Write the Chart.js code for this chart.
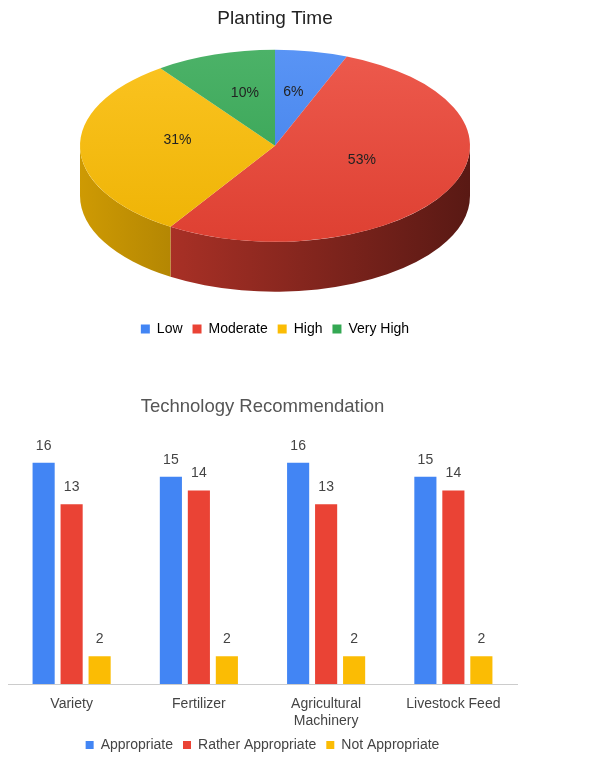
<!DOCTYPE html>
<html>
<head>
<meta charset="utf-8">
<script src="https://cdn.jsdelivr.net/npm/chart.js@4.4.1/dist/chart.umd.min.js"></script>
<style>
  body { margin: 0; background: #fff; width: 596px; height: 764px; position: relative; overflow: hidden; }
  #pie { position: absolute; left: 0; top: 0; }
  #bars { position: absolute; left: 0; top: 380px; }
</style>
</head>
<body>
<canvas id="pie" width="596" height="350"></canvas>
<canvas id="bars" width="596" height="384"></canvas>
<script>
// planting time (pie)
const pieLabels = ["Low", "Moderate", "High", "Very High"];
const pieValues = [6, 53, 31, 10];
const pieColors = ["#4285f4", "#ea4335", "#fbbc04", "#34a853"];

// technology recommendation (bars)
const barCategories = ["Variety", "Fertilizer", ["Agricultural", "Machinery"], "Livestock Feed"];
const appropriate = [16, 15, 16, 15];
const ratherAppropriate = [13, 14, 13, 14];
const notAppropriate = [2, 2, 2, 2];

Chart.defaults.font.family = "Arial, 'Liberation Sans', sans-serif";

// ellipse size of the tilted pie
const RX = 195, RY = 96, DEPTH = 50;

function shade(hex, f) {
  const n = parseInt(hex.slice(1), 16);
  const r = (n >> 16) & 255, g = (n >> 8) & 255, b = n & 255;
  const c = (v) => Math.max(0, Math.min(255, Math.round(f >= 1 ? v + (255 - v) * (f - 1) : v * f)));
  return `rgb(${c(r)},${c(g)},${c(b)})`;
}

const pie3d = {
  id: "pie3d",
  beforeDatasetsDraw(chart) {
    const ctx = chart.ctx;
    const arcs = chart.getDatasetMeta(0).data;
    if (!arcs.length) return;
    const a0 = arcs[0];
    const cx = a0.x, cy = chart.chartArea.top + RY;
    // front walls
    arcs.forEach((arc, i) => {
      const s = Math.max(arc.startAngle, 0), e = Math.min(arc.endAngle, Math.PI);
      if (e <= s) return;
      const g = ctx.createLinearGradient(cx - RX, 0, cx + RX, 0);
      g.addColorStop(0, shade(pieColors[i], 0.82));
      g.addColorStop(1, shade(pieColors[i], 0.38));
      ctx.beginPath();
      ctx.ellipse(cx, cy, RX, RY, 0, s, e);
      ctx.ellipse(cx, cy + DEPTH, RX, RY, 0, e, s, true);
      ctx.closePath();
      ctx.fillStyle = g;
      ctx.fill();
    });
    // squash the top face into an ellipse
    const r = a0.outerRadius;
    ctx.save();
    ctx.translate(cx, cy);
    ctx.scale(RX / r, RY / r);
    ctx.translate(-a0.x, -a0.y);
  },
  afterDatasetsDraw(chart) {
    const ctx = chart.ctx;
    ctx.restore();
    const arcs = chart.getDatasetMeta(0).data;
    if (!arcs.length) return;
    const a0 = arcs[0];
    const cx = a0.x, cy = chart.chartArea.top + RY;
    const r = a0.outerRadius;
    ctx.save();
    ctx.font = "14px Arial, 'Liberation Sans', sans-serif";
    ctx.fillStyle = "#222";
    ctx.textAlign = "center";
    ctx.textBaseline = "middle";
    arcs.forEach((arc, i) => {
      const p = arc.tooltipPosition();
      const x = cx + (p.x - a0.x) * RX / r;
      const y = cy + (p.y - a0.y) * RY / r;
      ctx.fillText(pieValues[i] + "%", x, y - 7);
    });
    ctx.restore();
  }
};

new Chart(document.getElementById("pie"), {
  type: "pie",
  data: {
    labels: pieLabels,
    datasets: [{
      data: pieValues,
      borderWidth: 0,
      backgroundColor: (c) => {
        const area = c.chart.chartArea;
        const base = pieColors[c.dataIndex];
        if (!area) return base;
        const g = c.chart.ctx.createLinearGradient(0, area.top, 0, area.bottom);
        g.addColorStop(0, shade(base, 1.12));
        g.addColorStop(1, shade(base, 0.95));
        return g;
      },
    }],
  },
  options: {
    responsive: false,
    animation: false,
    layout: { padding: { right: 46, bottom: 4 } },
    plugins: {
      title: {
        display: true,
        text: "Planting Time",
        color: "#222",
        font: { size: 19, weight: "normal" },
        padding: { top: 7, bottom: 20 },
      },
      legend: {
        position: "bottom",
        labels: {
          boxWidth: 9,
          boxHeight: 9,
          color: "#222",
          font: { size: 14 },
          padding: 10,
          generateLabels: () => pieLabels.map((l, i) => ({
            text: l, fillStyle: pieColors[i], strokeStyle: pieColors[i], lineWidth: 0, hidden: false, index: i,
          })),
        },
      },
      tooltip: { enabled: false },
    },
  },
  plugins: [pie3d],
});

const barLabels = {
  id: "barLabels",
  afterDatasetsDraw(chart) {
    const ctx = chart.ctx;
    ctx.save();
    ctx.font = "14px Arial, 'Liberation Sans', sans-serif";
    ctx.fillStyle = "#444";
    ctx.textAlign = "center";
    ctx.textBaseline = "bottom";
    chart.data.datasets.forEach((ds, i) => {
      chart.getDatasetMeta(i).data.forEach((bar, j) => {
        ctx.fillText(ds.data[j], bar.x, bar.y - 10);
      });
    });
    ctx.restore();
  }
};

new Chart(document.getElementById("bars"), {
  type: "bar",
  data: {
    labels: barCategories,
    datasets: [
      { label: "Appropriate", data: appropriate, backgroundColor: "#4285f4" },
      { label: "Rather Appropriate", data: ratherAppropriate, backgroundColor: "#ea4335" },
      { label: "Not Appropriate", data: notAppropriate, backgroundColor: "#fbbc04" },
    ],
  },
  options: {
    responsive: false,
    animation: false,
    layout: { padding: { left: 8, right: 79, bottom: 2 } },
    datasets: { bar: { categoryPercentage: 0.66, barPercentage: 0.79 } },
    scales: {
      y: { display: false, min: 0, max: 18 },
      x: {
        grid: { display: false, drawTicks: false },
        border: { color: "#ccc" },
        ticks: { color: "#444", font: { size: 14 }, padding: 12, maxRotation: 0 },
        // keep the legend tight under the two-line label
        afterFit: (scale) => { scale.height = 44; },
      },
    },
    plugins: {
      title: {
        display: true,
        text: "Technology Recommendation",
        color: "#555",
        font: { size: 18.5, weight: "normal" },
        padding: { top: 16, bottom: 17 },
      },
      legend: {
        position: "bottom",
        labels: { boxWidth: 8, boxHeight: 8, color: "#444", font: { size: 14 }, padding: 10 },
      },
      tooltip: { enabled: false },
    },
  },
  plugins: [barLabels],
});
</script>
</body>
</html>
